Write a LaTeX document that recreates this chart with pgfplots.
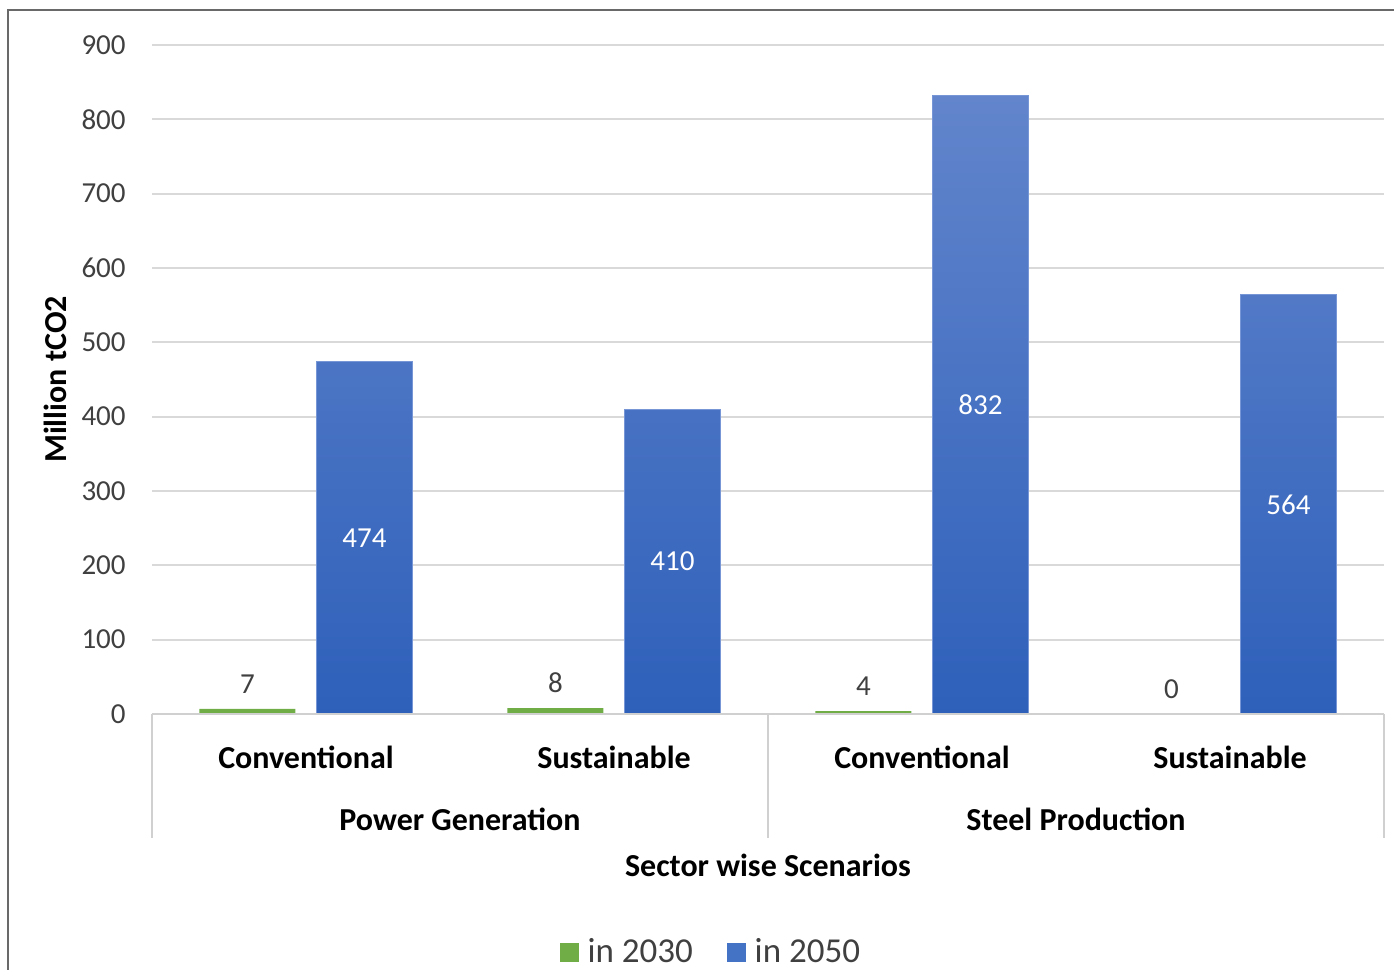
\documentclass[border=0pt]{standalone}
\usepackage{pgfplots}
\pgfplotsset{compat=1.18}
\usepackage{fontspec}
\setmainfont{Carlito}

\definecolor{green2030}{RGB}{112,173,71}
\definecolor{bluetop}{RGB}{98,133,204}
\definecolor{bluebottom}{RGB}{46,96,186}
\definecolor{blueedge}{RGB}{118,150,214}
\definecolor{blueleg}{RGB}{68,114,196}
\definecolor{gridgray}{RGB}{217,217,217}
\definecolor{catgray}{RGB}{208,208,208}
\definecolor{labelgray}{RGB}{64,64,64}
\definecolor{framegray}{RGB}{105,105,105}

\newcommand{\ticksize}{\fontsize{14.5pt}{17pt}\selectfont}
\newcommand{\catfont}{\bfseries\fontsize{16pt}{19pt}\selectfont}

\begin{document}
\begin{tikzpicture}
\useasboundingbox (0pt,0pt) rectangle (697pt,-485pt);
\clip (0pt,0pt) rectangle (697pt,-485pt);
% chart frame
\draw[framegray, line width=1pt] (4pt,-500pt) -- (4pt,-5pt) -- (720pt,-5pt);
\begin{axis}[
  at={(76pt,-357pt)}, anchor=south west,
  scale only axis, width=616pt, height=334.5pt,
  xmin=-0.5, xmax=3.5, ymin=0, ymax=900,
  clip=false,
  axis line style={draw=none},
  xtick=\empty,
  ytick={0,100,...,900},
  ymajorgrids,
  major grid style={gridgray, line width=1pt},
  ytick style={draw=none},
  /pgf/number format/assume math mode=true,
  yticklabel style={font=\ticksize, text=labelgray, anchor=east, inner sep=0pt, xshift=-13pt},
  bar width=0.3117,
  legend columns=2,
  legend cell align=left,
  legend style={at={(0.4545,-0.3558)}, anchor=center, draw=none, fill=none,
    font=\fontsize{17.5pt}{20pt}\selectfont, text=labelgray,
    /tikz/every even column/.append style={column sep=15pt}},
]
% emissions in 2030
\addplot[ybar, bar shift=-0.19, fill=green2030, draw=none, forget plot,
  nodes near coords,
  every node near coord/.append style={font=\ticksize, text=labelgray,
    shift={(axis direction cs:-0.19,0)}, yshift=4pt}]
  coordinates {(0,7) (1,8) (2,4) (3,0)};
% emissions in 2050, value printed in the middle of each bar
\addplot[ybar, bar shift=0.19, top color=bluetop, bottom color=bluebottom,
  draw=blueedge, line width=0.4pt, forget plot,
  nodes near coords,
  visualization depends on=y \as \rawy,
  every node near coord/.append style={font=\ticksize, text=white, anchor=center,
    shift={(axis direction cs:0.19,-\rawy/2)}}]
  coordinates {(0,474) (1,410) (2,832) (3,564)};

\addlegendimage{legend image code/.code={\fill[green2030] (0pt,-4.5pt) rectangle (9pt,4.5pt); \path (11.5pt,0pt);}}
\addlegendentry{in 2030}
\addlegendimage{legend image code/.code={\fill[blueleg] (0pt,-4.5pt) rectangle (9pt,4.5pt); \path (11.5pt,0pt);}}
\addlegendentry{in 2050}

% category axis with group separators
\draw[catgray, line width=1pt] (axis cs:-0.5,0) -- (axis cs:3.5,0);
\draw[catgray, line width=1pt] (axis cs:-0.5,0) -- ([yshift=-62pt]axis cs:-0.5,0);
\draw[catgray, line width=1pt] (axis cs:1.5,0) -- ([yshift=-62pt]axis cs:1.5,0);
\draw[catgray, line width=1pt] (axis cs:3.5,0) -- ([yshift=-62pt]axis cs:3.5,0);

\node[font=\catfont] at ([yshift=-21.5pt]axis cs:0,0) {Conventional};
\node[font=\catfont] at ([yshift=-21.5pt]axis cs:1,0) {Sustainable};
\node[font=\catfont] at ([yshift=-21.5pt]axis cs:2,0) {Conventional};
\node[font=\catfont] at ([yshift=-21.5pt]axis cs:3,0) {Sustainable};
\node[font=\catfont] at ([yshift=-52.5pt]axis cs:0.5,0) {Power Generation};
\node[font=\catfont] at ([yshift=-52.5pt]axis cs:2.5,0) {Steel Production};
\node[font=\catfont] at ([yshift=-75.5pt]axis cs:1.5,0) {Sector wise Scenarios};
\node[font=\catfont, rotate=90] at ([xshift=-48.5pt]rel axis cs:0,0.5) {Million tCO2};
\end{axis}
\end{tikzpicture}
\end{document}
